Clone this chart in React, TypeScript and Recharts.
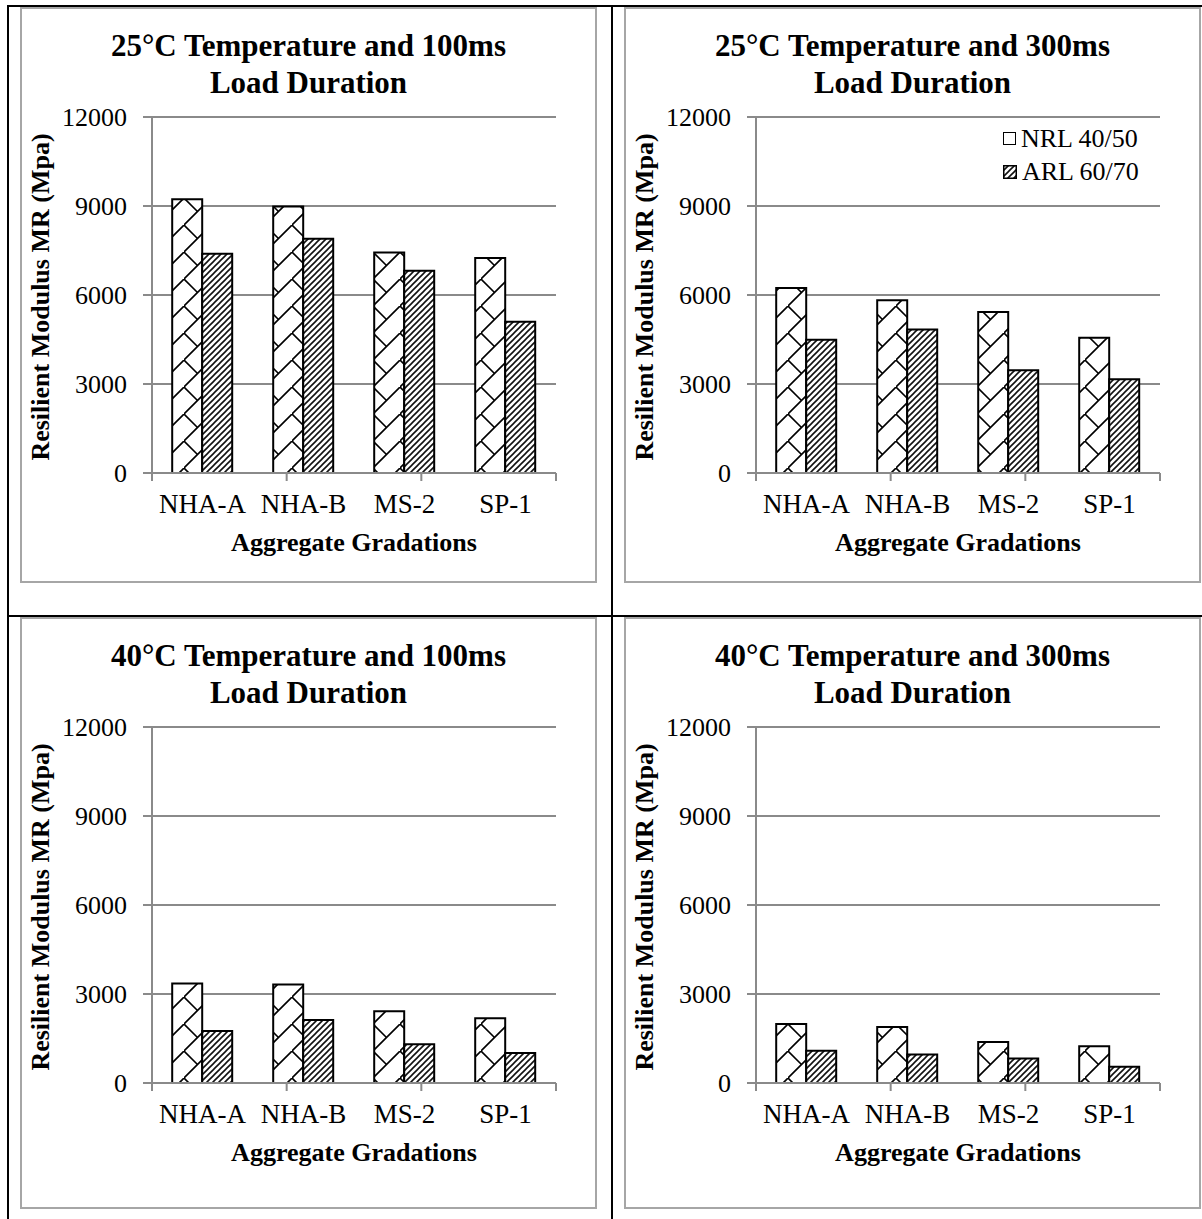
import React from "react";
import { BarChart, Bar, XAxis, YAxis, CartesianGrid } from "recharts";

const categories = ["NHA-A", "NHA-B", "MS-2", "SP-1"];
const nrl25ms100 = [9230, 8980, 7430, 7250];
const arl25ms100 = [7390, 7900, 6820, 5100];
const nrl25ms300 = [6240, 5820, 5430, 4560];
const arl25ms300 = [4490, 4840, 3460, 3160];
const nrl40ms100 = [3350, 3320, 2420, 2180];
const arl40ms100 = [1750, 2120, 1310, 1010];
const nrl40ms300 = [1990, 1890, 1380, 1240];
const arl40ms300 = [1090, 960, 830, 550];
const yTicks = [0, 3000, 6000, 9000, 12000];
const boundaryTicks = [0, 1, 2, 3, 4];

const FONT = "'Liberation Serif', 'Times New Roman', serif";
const GRID = "#8a8a8a";

function Patterns({ id }: { id: string }) {
  return (
    <defs>
      <pattern id={`brick-${id}`} patternUnits="userSpaceOnUse" width={27} height={27}>
        <rect width={27} height={27} fill="#fff" />
        <path d="M0,27 L27,0 M0,0 L13.5,13.5" stroke="#000" strokeWidth={1.6} fill="none" />
      </pattern>
      <pattern id={`hatch-${id}`} patternUnits="userSpaceOnUse" width={6} height={6}>
        <rect width={6} height={6} fill="#fff" />
        <path d="M0,6 L6,0 M-1.5,1.5 L1.5,-1.5 M4.5,7.5 L7.5,4.5" stroke="#111" strokeWidth={1.6} />
      </pattern>
    </defs>
  );
}

function Legend2() {
  const row = { display: "flex", alignItems: "center", height: 33, lineHeight: "33px" } as const;
  return (
    <div style={{ position: "absolute", left: 377, top: 113, fontFamily: FONT, fontSize: 26 }}>
      <div style={row}>
        <span style={{ width: 11, height: 11, border: "1.5px solid #000", background: "#fff", marginRight: 5 }} />
        NRL 40/50
      </div>
      <div style={row}>
        <svg width={14} height={14} style={{ marginRight: 5 }}>
          <Patterns id="leg" />
          <rect x={0.75} y={0.75} width={12.5} height={12.5} fill="url(#hatch-leg)" stroke="#000" strokeWidth={1.5} />
        </svg>
        ARL 60/70
      </div>
    </div>
  );
}

function Panel({ id, left, top, height, title, nrl, arl, legend }: any) {
  const data = categories.map((name, i) => ({ name, nrl: nrl[i], arl: arl[i] }));
  return (
    <div style={{ position: "absolute", left, top, width: 573, height: height - 4, border: "2px solid #a6a6a6", boxSizing: "content-box" }}>
      <div style={{ position: "absolute", left: 0, top: 18, width: 573, textAlign: "center", fontFamily: FONT, fontWeight: "bold", fontSize: 31, lineHeight: "37px" }}>
        {title[0]}
        <br />
        {title[1]}
      </div>
      <div style={{ position: "absolute", left: 0, top: 0 }}>
        <BarChart width={560} height={560} data={data} margin={{ top: 108, right: 26, left: 0, bottom: 94 }} barCategoryGap="20%" barGap={0}>
          <Patterns id={id} />
          <CartesianGrid xAxisId="c" vertical={false} stroke={GRID} strokeWidth={2} />
          <XAxis xAxisId="b" type="number" domain={[0, 4]} allowDataOverflow ticks={boundaryTicks} height={1} tickSize={8}
            tick={() => <g />} axisLine={{ stroke: GRID, strokeWidth: 2 }} tickLine={{ stroke: GRID, strokeWidth: 2 }} />
          <XAxis xAxisId="c" dataKey="name" height={1} axisLine={false} tickLine={false} tickSize={0} tickMargin={20}
            interval={0} tick={{ fontFamily: FONT, fontSize: 27, fill: "#000" }} />
          <YAxis domain={[0, 12000]} ticks={yTicks} width={130} tickSize={9} tickMargin={16}
            axisLine={{ stroke: GRID, strokeWidth: 2 }} tickLine={{ stroke: GRID, strokeWidth: 2 }}
            tick={{ fontFamily: FONT, fontSize: 26, fill: "#000" }} />
          <Bar xAxisId="c" dataKey="nrl" name="NRL 40/50" fill={`url(#brick-${id})`} stroke="#000" strokeWidth={2} isAnimationActive={false} />
          <Bar xAxisId="c" dataKey="arl" name="ARL 60/70" fill={`url(#hatch-${id})`} stroke="#000" strokeWidth={2} isAnimationActive={false} />
        </BarChart>
      </div>
      <div style={{ position: "absolute", left: 19 - 200, top: 288 - 15, width: 400, height: 30, lineHeight: "30px", textAlign: "center",
        transform: "rotate(-90deg)", fontFamily: FONT, fontWeight: "bold", fontSize: 26 }}>
        Resilient Modulus MR (Mpa)
      </div>
      <div style={{ position: "absolute", left: 332 - 200, top: 519, width: 400, lineHeight: "30px", textAlign: "center",
        fontFamily: FONT, fontWeight: "bold", fontSize: 26 }}>
        Aggregate Gradations
      </div>
      {legend && <Legend2 />}
    </div>
  );
}

export default function App() {
  const line = { position: "absolute", background: "#000" } as const;
  return (
    <div style={{ position: "absolute", left: 0, top: 0, width: 1202, height: 1219, background: "#fff", overflow: "hidden" }}>
      <div style={{ ...line, left: 7, top: 5, width: 1195, height: 2 }} />
      <div style={{ ...line, left: 7, top: 5, width: 2, height: 1214 }} />
      <div style={{ ...line, left: 611, top: 5, width: 2, height: 1214 }} />
      <div style={{ ...line, left: 7, top: 615, width: 1195, height: 2 }} />
      <Panel id="p1" left={20} top={7} height={576} title={["25°C Temperature and 100ms", "Load Duration"]} nrl={nrl25ms100} arl={arl25ms100} />
      <Panel id="p2" left={624} top={7} height={576} title={["25°C Temperature and 300ms", "Load Duration"]} nrl={nrl25ms300} arl={arl25ms300} legend />
      <Panel id="p3" left={20} top={617} height={592} title={["40°C Temperature and 100ms", "Load Duration"]} nrl={nrl40ms100} arl={arl40ms100} />
      <Panel id="p4" left={624} top={617} height={592} title={["40°C Temperature and 300ms", "Load Duration"]} nrl={nrl40ms300} arl={arl40ms300} />
    </div>
  );
}
